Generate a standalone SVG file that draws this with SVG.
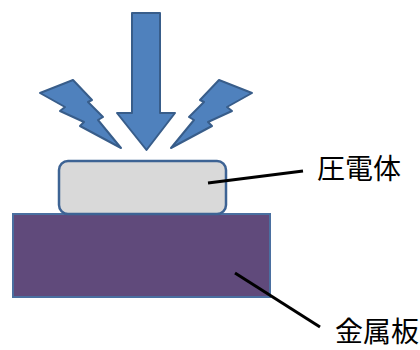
<svg xmlns="http://www.w3.org/2000/svg" width="420" height="350" viewBox="0 0 420 350">
<style>
.blue{fill:#4f81bd;stroke:#385d8a;stroke-width:2;stroke-linejoin:round}
.lead{stroke:#000;stroke-width:3;fill:none}
.lbl{font-family:"Noto Sans CJK JP","Noto Sans CJK SC",sans-serif;font-size:28px;fill:#000}
</style>
<rect width="420" height="350" fill="#fff"/>
<g id="arrow">
<path class="blue" d="M132,13 H160 V113 H175 L146.5,150 L117,113 H132 Z"/>
</g>
<g id="bolt-left">
<path class="blue" d="M40,93 L73,80 L92,100 L88,102 L103,117 L98,120 L121,148 L80,126 L84,122 L60,111 L65,107 Z"/>
</g>
<g id="bolt-right">
<path class="blue" d="M252,93 L219,80 L200,100 L204,102 L189,117 L194,120 L171,148 L212,126 L208,122 L232,111 L227,107 Z"/>
</g>
<g id="metal">
<rect x="13" y="214" width="257" height="83" fill="#604a7b" stroke="#4a6fa0" stroke-width="2"/>
</g>
<g id="piezo">
<rect x="59" y="161" width="167" height="53" rx="9" fill="#d9d9d9" stroke="#3d6394" stroke-width="2.5"/>
</g>
<g id="connectors">
<line class="lead" x1="208" y1="183" x2="303" y2="171"/>
<line class="lead" x1="235" y1="273" x2="320" y2="327"/>
</g>
<g id="label-piezo"><text class="lbl" x="317" y="179">圧電体</text></g>
<g id="label-metal"><text class="lbl" x="335" y="342" font-size="27">金属板</text></g>
</svg>
